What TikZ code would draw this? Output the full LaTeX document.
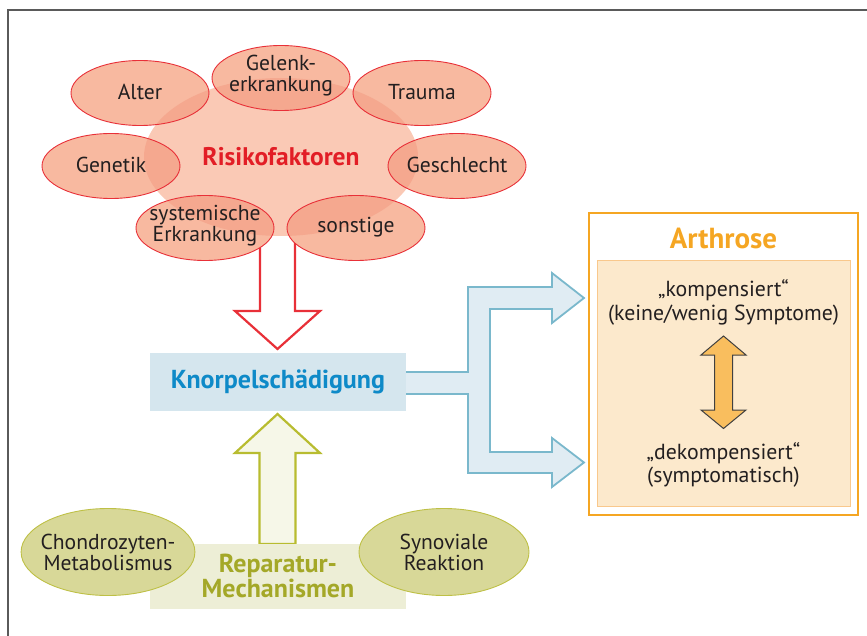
\documentclass[tikz,border=0pt]{standalone}
\usepackage{fontspec}
\setmainfont{PT Sans}
\usetikzlibrary{shapes.geometric,calc}
\definecolor{salmonA}{RGB}{250,201,181}
\definecolor{salmonB}{RGB}{248,185,160}
\definecolor{salmonC}{RGB}{245,168,143}
\definecolor{redline}{RGB}{232,48,56}
\definecolor{riskred}{RGB}{226,30,38}
\definecolor{kblue}{RGB}{213,230,238}
\definecolor{ktext}{RGB}{14,138,200}
\definecolor{bfill}{RGB}{224,236,243}
\definecolor{bline}{RGB}{122,184,204}
\definecolor{aorange}{RGB}{245,166,35}
\definecolor{ofill}{RGB}{252,233,204}
\definecolor{oinner}{RGB}{249,200,140}
\definecolor{darrow}{RGB}{249,190,94}
\definecolor{olivefill}{RGB}{216,216,152}
\definecolor{oliveline}{RGB}{190,192,70}
\definecolor{olivebox}{RGB}{237,238,214}
\definecolor{olivetext}{RGB}{164,168,40}
\definecolor{olivearrow}{RGB}{184,188,48}
\definecolor{olivearrowfill}{RGB}{246,247,232}
\definecolor{framegray}{RGB}{90,90,90}
\definecolor{txt}{RGB}{35,31,32}
\tikzset{
  smalltext/.style={align=center, text=txt, inner sep=0pt},
  olell/.style={ellipse, draw=oliveline, fill=olivefill, line width=0.9pt, minimum width=170pt, minimum height=87pt, inner sep=-6pt, align=center, text=txt},
  bodytext/.style={font=\fontsize{21.6}{21}\selectfont},
}
\begin{document}
\begin{tikzpicture}[x=1pt,y=-1pt,bodytext]
\useasboundingbox (0,0) rectangle (867,636);
\draw[framegray, line width=1.5pt] (8,636) -- (8,10) -- (867,10);

% red arrow (behind the ellipses)
\draw[redline, fill=white, line width=2.2pt, line join=miter]
  (260,232) -- (260,311) -- (235,311) -- (277.5,349) -- (320,311) -- (295,311) -- (295,232) -- cycle;

% big ellipse
\node[ellipse, fill=salmonA, minimum width=274pt, minimum height=158pt, inner sep=0pt] (risk) at (281,157) {};

% small ellipse fills
\foreach \cx/\cy in {140/93, 281/78, 422/93, 111/166, 457/166, 205/228, 356/228}{
  \fill[salmonB] (\cx,\cy) ellipse [x radius=69, y radius=32.5];
}
\begin{scope}
  \clip (281,157) ellipse [x radius=137, y radius=79];
  \foreach \cx/\cy in {140/93, 281/78, 422/93, 111/166, 457/166, 205/228, 356/228}{
    \fill[salmonC] (\cx,\cy) ellipse [x radius=69, y radius=32.5];
  }
\end{scope}
\foreach \cx/\cy in {140/93, 281/78, 422/93, 111/166, 457/166, 205/228, 356/228}{
  \draw[redline, line width=0.9pt] (\cx,\cy) ellipse [x radius=69, y radius=32.5];
}

\node[smalltext] (alter) at (140,92) {Alter};
\node[smalltext] (gelenk) at (281,76) {Gelenk-\\erkrankung};
\node[smalltext] (trauma) at (422,92) {Trauma};
\node[smalltext] (genetik) at (111,165) {Genetik};
\node[smalltext] (geschlecht) at (457,165) {Geschlecht};
\node[smalltext] (syst) at (205,226) {systemische\\Erkrankung};
\node[smalltext] (sonst) at (356,227) {sonstige};
\node[font=\fontsize{25.5}{25}\selectfont\bfseries, text=riskred] (risklabel) at (281,157) {Risikofaktoren};

% Knorpelschaedigung
\node[fill=kblue, minimum width=256pt, minimum height=58pt, inner sep=0pt, font=\fontsize{26}{26}\selectfont\bfseries, text=ktext] (knorpel) at (278,382) {Knorpelschädigung};

% blue branching arrow
\draw[bline, fill=bfill, line width=1.8pt, line join=miter]
  (knorpel.east |- 0,372) -- (468,372) -- (468,287) -- (552,287) -- (552,273) -- (584,298) -- (552,323) -- (552,309)
  -- (490,309) -- (490,452) -- (552,452) -- (552,438) -- (584,462.5) -- (552,487) -- (552,473) -- (468,473)
  -- (468,394) -- (knorpel.east |- 0,394);

% Arthrose
\node[draw=aorange, line width=2.6pt, minimum width=269pt, minimum height=302pt, inner sep=0pt] (arth) at (723.5,364) {};
\node[font=\fontsize{29}{29}\selectfont\bfseries, text=aorange] (arthlabel) at (723.5,238) {Arthrose};
\node[fill=ofill, draw=oinner, line width=0.8pt, minimum width=253pt, minimum height=246pt, inner sep=0pt] (inner) at (723.5,383) {};
\node[align=center, text=txt, font=\fontsize{21.8}{24}\selectfont] (komp) at (723.5,302) {„kompensiert“\\(keine/wenig Symptome)};
\node[align=center, text=txt, font=\fontsize{21.8}{23}\selectfont] (dekomp) at (723.5,465) {„dekompensiert“\\(symptomatisch)};
\draw[black!75, fill=darrow, line width=1pt, line join=miter]
  (723.5,336) -- (746,355) -- (732.5,355) -- (732.5,410) -- (746,410) -- (723.5,428.5)
  -- (701,410) -- (714.5,410) -- (714.5,355) -- (701,355) -- cycle;

% Reparatur
\draw[olivearrow, fill=olivearrowfill, line width=2.2pt, line join=miter]
  (259.5,544) -- (259.5,453) -- (235,453) -- (277.5,414) -- (320,453) -- (295.5,453) -- (295.5,544) -- cycle;
\node[fill=olivebox, minimum width=256pt, minimum height=65pt, inner sep=0pt] (repbox) at (278,576.5) {};
\node[olell] (chondro) at (108,552) {Chondrozyten-\\Metabolismus};
\node[olell] (synov) at (444,552) {Synoviale\\Reaktion};
\node[align=center, text=olivetext, font=\fontsize{26}{23}\selectfont\bfseries] (replabel) at (278,576) {Reparatur-\\Mechanismen};
\end{tikzpicture}
\end{document}
